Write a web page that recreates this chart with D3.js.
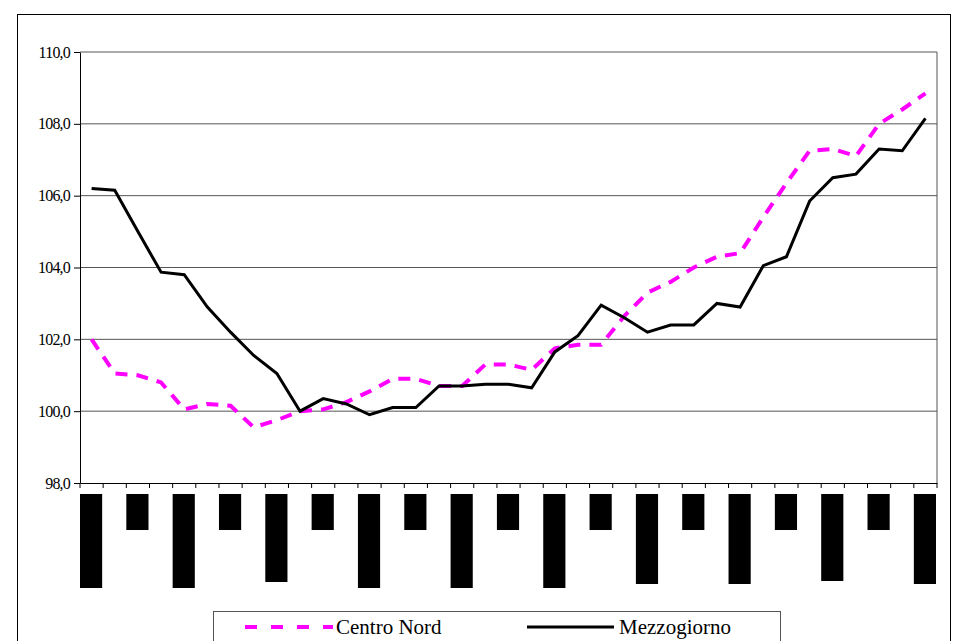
<!DOCTYPE html>
<html><head><meta charset="utf-8">
<script src="https://cdn.jsdelivr.net/npm/d3@7"></script>
<style>body{margin:0;background:#fff} .ylab{font-family:"Liberation Serif",serif;font-size:16px}</style>
</head><body><div id="chart"></div>
<script>
// values
const periods = d3.range(37).map(i => "t" + (i + 1));
const centroNord = [102.0,101.05,101.0,100.8,100.05,100.2,100.15,99.55,99.75,100.0,100.05,100.25,100.55,100.9,100.9,100.7,100.7,101.3,101.3,101.15,101.75,101.85,101.85,102.65,103.3,103.6,104.0,104.3,104.4,105.4,106.35,107.25,107.3,107.1,108.0,108.4,108.85];
const mezzogiorno = [106.2,106.15,105.0,103.87,103.8,102.9,102.2,101.55,101.05,100.0,100.35,100.2,99.9,100.1,100.1,100.7,100.7,100.75,100.75,100.65,101.65,102.1,102.95,102.6,102.2,102.4,102.4,103.0,102.9,104.05,104.3,105.85,106.5,106.6,107.3,107.25,108.15];
const yTicks = [98,100,102,104,106,108,110];
// the category labels show up as solid blocks; long / short per label
const labelLen = [94,36,94,36,88,36,94,36,94,36,94,36,90,36,90,36,87,36,90];

const width = 956, height = 641;
const margin = {top: 52, left: 80, right: 19, bottom: 158};

const svg = d3.select("#chart").append("svg")
    .attr("width", width).attr("height", height);

svg.append("rect").attr("x", 17.5).attr("y", 14.5).attr("width", 933).attr("height", 640)
    .attr("fill", "none").attr("stroke", "#000");

const xScale = d3.scaleBand().domain(periods)
    .range([margin.left, width - margin.right]);
const yScale = d3.scaleLinear().domain([98, 110])
    .range([height - margin.bottom, margin.top]);

// gridlines
svg.selectAll(".grid").data(yTicks.slice(1)).enter().append("line")
    .attr("x1", margin.left).attr("x2", width - margin.right)
    .attr("y1", d => yScale(d)).attr("y2", d => yScale(d))
    .attr("stroke", "#555").attr("stroke-width", 1);
svg.append("line").attr("x1", width - margin.right).attr("x2", width - margin.right)
    .attr("y1", margin.top).attr("y2", yScale(98)).attr("stroke", "#555");

const yAxis = svg.append("g")
    .attr("transform", `translate(${margin.left},0)`)
    .call(d3.axisLeft(yScale).tickValues(yTicks).tickSize(6).tickSizeOuter(0)
        .tickFormat(d => d3.format(".1f")(d).replace(".", ",")));
yAxis.selectAll("text").attr("class", "ylab").attr("fill", "#000")
    .style("letter-spacing", "-0.8px").attr("x", -10);
yAxis.selectAll("line,path").attr("stroke", "#000");

const xAxis = svg.append("g")
    .attr("transform", `translate(0,${yScale(98)})`)
    .call(d3.axisBottom(xScale).tickValues([]).tickSizeOuter(0));
xAxis.select("path").attr("stroke", "#000");
// tick marks between categories
svg.selectAll(".xt").data(periods.concat(["end"])).enter().append("line")
    .attr("x1", (d, i) => margin.left + i * xScale.step())
    .attr("x2", (d, i) => margin.left + i * xScale.step())
    .attr("y1", yScale(98)).attr("y2", yScale(98) + 5).attr("stroke", "#000");

// label blocks
svg.selectAll(".lab").data(labelLen).enter().append("rect")
    .attr("x", (d, i) => xScale(periods[i * 2]))
    .attr("y", yScale(98) + 11)
    .attr("width", xScale.bandwidth() - 1)
    .attr("height", d => d)
    .attr("fill", "#000");

const line = d3.line().x((d, i) => xScale(periods[i]) + xScale.bandwidth() / 2).y(d => yScale(d));
svg.append("path").datum(centroNord).attr("d", line).attr("fill", "none")
    .attr("stroke", "#ff00ff").attr("stroke-width", 4).attr("stroke-dasharray", "12,9");
svg.append("path").datum(mezzogiorno).attr("d", line).attr("fill", "none")
    .attr("stroke", "#000").attr("stroke-width", 3);

// legend
const lg = svg.append("g");
lg.append("rect").attr("x", 213.5).attr("y", 611.5).attr("width", 567).attr("height", 40)
    .attr("fill", "#fff").attr("stroke", "#555");
lg.append("line").attr("x1", 245).attr("x2", 333).attr("y1", 627).attr("y2", 627)
    .attr("stroke", "#ff00ff").attr("stroke-width", 4).attr("stroke-dasharray", "12,14");
lg.append("text").attr("x", 336).attr("y", 634).text("Centro Nord");
lg.append("line").attr("x1", 527).attr("x2", 614).attr("y1", 627).attr("y2", 627)
    .attr("stroke", "#000").attr("stroke-width", 3);
lg.append("text").attr("x", 619).attr("y", 634).text("Mezzogiorno");
lg.selectAll("text").attr("font-family", "Liberation Serif").attr("font-size", 21);
</script></body></html>
